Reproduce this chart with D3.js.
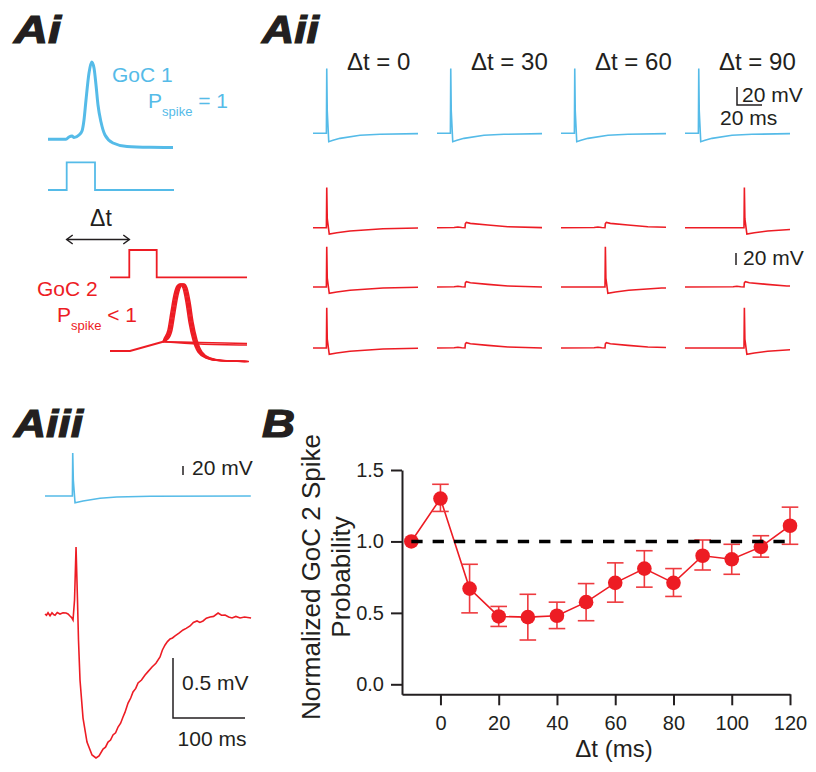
<!DOCTYPE html>
<html>
<head>
<meta charset="utf-8">
<script src="https://cdn.jsdelivr.net/npm/d3@7"></script>
<style>
  body { margin: 0; background: #fff; }
  text { font-family: "Liberation Sans", Arial, Helvetica, sans-serif; }
</style>
</head>
<body>
<svg id="fig" width="816" height="772"></svg>
<script>
// ---- B: normalized GoC 2 spike probability vs dt ----
var dtValues  = [-10, 0, 10, 20, 30, 40, 50, 60, 70, 80, 90, 100, 110, 120];
var probMean  = [1.0, 1.30, 0.67, 0.475, 0.47, 0.48, 0.575, 0.71, 0.81, 0.71, 0.90, 0.875, 0.962, 1.11];
var probHi    = [1.0, 1.40, 0.84, 0.545, 0.63, 0.575, 0.705, 0.85, 0.935, 0.81, 1.01, 0.98, 1.04, 1.24];
var probLo    = [1.0, 1.21, 0.50, 0.405, 0.31, 0.39, 0.445, 0.575, 0.68, 0.615, 0.80, 0.77, 0.89, 0.98];
var xTicksB   = [0, 20, 40, 60, 80, 100, 120];
var yTicksB   = [0.0, 0.5, 1.0, 1.5];

// ---- Ai: schematic (ms, mV) ----
var goc1Spike = [[0,-60],[18,-60],[21,-57.7],[24,-56.7],[26,-58.2],[31,-55.7],[34,-51.7],[36,-40.7],[38,-20.7],
                 [41,6.3],[43.7,17.3],[46,11.3],[48,-5.7],[50,-25.7],[53,-42.7],[57,-55.7],[65,-63.7],[79,-67.2],[102,-68],[125,-68.2]];
var goc1Step  = [[0,0],[18.7,0],[18.7,1],[47,1],[47,0],[126,0]];
var goc2Step  = [[62,0],[81.3,0],[81.3,1],[108.7,1],[108.7,0],[199,0]];
var goc2Ramp  = [[62,-60],[82,-60],[115,-50.7]];
var goc2Spike = [[115,-50.7],[118,-48],[122,-39],[125,-21],[128,-4],[131,5],[134,7],[137,3],[140,-11],[143,-31],
                 [147,-49],[152,-61],[160,-67],[172,-69.5],[199,-70.5]];
var goc2Fail  = [[115,-50.7],[152,-51.5],[199,-52.5]];
var spikeJitter = [-2, -1, 0, 1, 2];
var failDrop    = [0, -1.5];

// ---- Aii: example sweeps (ms, mV from rest) ----
var aiiTitles    = ["\u0394t = 0", "\u0394t = 30", "\u0394t = 60", "\u0394t = 90"];
var goc2StimTime = [11, 22.7, 35.5, 47.5];
var goc1SpikeTime = 11;
var goc2Outcome  = [["spike","epsp","epsp","spike"],
                    ["spike","epsp","spike","epsp"],
                    ["spike","epsp","epsp","spike"]];
var blueApShape = [[-0.3,0],[0,72],[0.4,25],[1.6,-9.3],[5,-7.8],[10.6,-5.6],[26.6,-2.2],[42.6,-1.1],[73,-0.4]];
var redApShape  = [[-0.3,0],[0,67],[0.4,15],[2,-10.5],[8,-8.3],[18.6,-5.5],[45,-1.7],[73,-0.5]];
var redPspShape = [[-9,0.3],[-6,1.2],[-3,0.4],[-0.3,0],[0,7],[0.8,8.9],[4,7.2],[18,4.4],[34,1.7],[62,0]];
var sweepLen = 84;

// ---- Aiii: averaged traces ----
var aiiiBlue = [[0,-60],[38,-60],[38.5,35.6],[39.3,-24.4],[41.7,-74.9],[52.8,-71.1],[76.4,-65.1],[99.6,-62.2],[145.8,-60.7],[285.7,-60]];
var aiiiRed  = [[0,0],[2,-0.01],[4.2,0.01],[7,-0.015],[9.7,0.01],[12,-0.005],[13.9,-0.01],[17,0.012],[20.8,0],[25,0.01],
                [29.2,0.008],[32,0],[34.7,-0.017],[37,-0.03],[38.9,-0.05],[41,0.117],[43.1,0.558],[45.1,0.117],[46.5,-0.217],
                [48.6,-0.55],[52.8,-0.867],[58.3,-1.067],[65.3,-1.175],[70.8,-1.2],[75,-1.183],[80.6,-1.125],[84,-1.11],
                [87.5,-1.067],[91,-1.05],[94.4,-1.008],[98,-0.99],[101.4,-0.942],[105,-0.91],[108.3,-0.858],[111,-0.82],
                [115.3,-0.742],[119,-0.70],[122.2,-0.65],[126,-0.62],[129.2,-0.575],[134,-0.55],[138.9,-0.508],[143,-0.48],
                [148.6,-0.442],[154,-0.41],[159.7,-0.358],[163,-0.30],[166.7,-0.258],[170,-0.23],[173.6,-0.208],[177,-0.2],
                [180.6,-0.183],[186,-0.16],[191.7,-0.133],[196,-0.12],[201.4,-0.1],[206,-0.07],[211.1,-0.058],[215,-0.07],
                [219.4,-0.058],[224,-0.035],[229.2,-0.025],[234,-0.02],[240.3,0.008],[245,-0.01],[250,-0.008],[255,-0.025],
                [259.7,-0.033],[265,-0.02],[270.8,-0.033],[277,-0.025],[286.1,-0.033]];

var ink = '#231f20', blue = '#55bbe8', red = '#ed1c24';
var svg = d3.select('#fig');

function panelLabel(txt, x, y, w) {
  svg.append('text').attr('x', x).attr('y', y)
    .attr('textLength', w).attr('lengthAdjust', 'spacingAndGlyphs')
    .style('font-size', '38px').style('font-weight', 'bold').style('font-style', 'italic')
    .attr('fill', ink).attr('stroke', ink).attr('stroke-width', 1.2)
    .text(txt);
}
function plainText(g, txt, x, y, size, color, anchor) {
  return g.append('text').attr('x', x).attr('y', y)
    .style('font-size', size + 'px').attr('fill', color)
    .attr('text-anchor', anchor || 'start').text(txt);
}
function pspike(g, x, y, rest, color) {
  var t = g.append('text').attr('x', x).attr('y', y).attr('fill', color).style('font-size', '21px');
  t.append('tspan').text('P');
  t.append('tspan').attr('dy', 8).style('font-size', '13px').text('spike');
  t.append('tspan').attr('dy', -8).text(rest);
}

panelLabel('Ai', 14, 43, 47);
panelLabel('Aii', 262, 43, 57);
panelLabel('Aiii', 14, 437, 69);
panelLabel('B', 262, 437, 33);

// ================= Ai =================
var xAi = d3.scaleLinear().domain([0, 125]).range([48, 173]);
var yAiBlue = d3.scaleLinear().domain([-60, 17.3]).range([139.3, 62]);
var yAiRed  = d3.scaleLinear().domain([-60, 7]).range([351, 284]);
var yStepBlue = d3.scaleLinear().domain([0, 1]).range([190, 162.3]);
var yStepRed  = d3.scaleLinear().domain([0, 1]).range([277.3, 250]);

var gAi = svg.append('g');
gAi.append('path').datum(goc1Spike)
  .attr('d', d3.line().x(d => xAi(d[0])).y(d => yAiBlue(d[1])).curve(d3.curveMonotoneX))
  .attr('fill', 'none').attr('stroke', blue).attr('stroke-width', 3);
gAi.append('path').datum(goc1Step)
  .attr('d', d3.line().x(d => xAi(d[0])).y(d => yStepBlue(d[1])))
  .attr('fill', 'none').attr('stroke', blue).attr('stroke-width', 1.8);
gAi.append('path').datum(goc2Step)
  .attr('d', d3.line().x(d => xAi(d[0])).y(d => yStepRed(d[1])))
  .attr('fill', 'none').attr('stroke', red).attr('stroke-width', 1.8);

var redAiLine = d3.line().x(d => xAi(d[0])).y(d => yAiRed(d[1])).curve(d3.curveMonotoneX);
gAi.append('path').datum(goc2Ramp).attr('d', d3.line().x(d => xAi(d[0])).y(d => yAiRed(d[1])))
  .attr('fill', 'none').attr('stroke', red).attr('stroke-width', 2);
failDrop.forEach(function(dv) {
  gAi.append('path').datum(goc2Fail.map(p => [p[0], p[0] > 115 ? p[1] + dv : p[1]]))
    .attr('d', redAiLine).attr('fill', 'none').attr('stroke', red).attr('stroke-width', 1.6);
});
spikeJitter.forEach(function(dt) {
  gAi.append('path').datum(goc2Spike.map((p, i) => [i === 0 ? p[0] : p[0] + dt, p[1]]))
    .attr('d', redAiLine).attr('fill', 'none').attr('stroke', red).attr('stroke-width', 1.5);
});

plainText(gAi, 'GoC 1', 112, 82, 21, blue);
pspike(gAi, 148, 108, ' = 1', blue);
plainText(gAi, '\u0394t', 101, 226, 23, ink, 'middle');
plainText(gAi, 'GoC 2', 37, 296, 21, red);
pspike(gAi, 57, 322, ' < 1', red);

// dt arrow
gAi.append('line').attr('x1', xAi(goc1Step[1][0])).attr('x2', xAi(goc2Step[1][0]))
  .attr('y1', 239.5).attr('y2', 239.5).attr('stroke', ink).attr('stroke-width', 1.5);
gAi.append('path')
  .attr('d', 'M' + (xAi(goc1Step[1][0]) + 6) + ',235 L' + xAi(goc1Step[1][0]) + ',239.5 L' + (xAi(goc1Step[1][0]) + 6) + ',244' +
             'M' + (xAi(goc2Step[1][0]) - 6) + ',235 L' + xAi(goc2Step[1][0]) + ',239.5 L' + (xAi(goc2Step[1][0]) - 6) + ',244')
  .attr('fill', 'none').attr('stroke', ink).attr('stroke-width', 1.5);

// ================= Aii =================
var colX = d3.scaleLinear().domain([0, 3]).range([313, 685]);
var xAii = d3.scaleLinear().domain([0, sweepLen]).range([0, 105]);
var yAiiBlue = d3.scaleLinear().domain([0, 20]).range([0, -18]);
var yAiiRed  = d3.scaleLinear().domain([0, 20]).range([0, -12]);
var blueRowY = 133.3;
var redRowY  = [227.7, 287, 348];

svg.append('defs').append('clipPath').attr('id', 'sweepClip')
  .append('rect').attr('x', -1).attr('y', -100).attr('width', xAii(sweepLen) + 1).attr('height', 200);

function sweep(shape, t0) {
  var pts = [[0, 0]];
  shape.forEach(function(p) { if (t0 + p[0] > 0) pts.push([t0 + p[0], p[1]]); });
  pts.push([sweepLen + 40, pts[pts.length - 1][1]]);
  return pts;
}
var gAii = svg.append('g');
aiiTitles.forEach(function(title, c) {
  plainText(gAii, title, colX(c) + 34, 70, 24, ink);
  var gb = gAii.append('g').attr('transform', 'translate(' + colX(c) + ',' + blueRowY + ')').attr('clip-path', 'url(#sweepClip)');
  gb.append('path').datum(sweep(blueApShape, goc1SpikeTime))
    .attr('d', d3.line().x(d => xAii(d[0])).y(d => yAiiBlue(d[1])))
    .attr('fill', 'none').attr('stroke', blue).attr('stroke-width', 1.6);
  goc2Outcome.forEach(function(row, r) {
    var gr = gAii.append('g').attr('transform', 'translate(' + colX(c) + ',' + redRowY[r] + ')').attr('clip-path', 'url(#sweepClip)');
    var shape = row[c] === 'spike' ? redApShape : redPspShape;
    gr.append('path').datum(sweep(shape, goc2StimTime[c]))
      .attr('d', d3.line().x(d => xAii(d[0])).y(d => yAiiRed(d[1])))
      .attr('fill', 'none').attr('stroke', red).attr('stroke-width', 1.6);
  });
});
// scale bars
var sbx = 737, sby = 105;
gAii.append('path')
  .attr('d', 'M' + sbx + ',' + (sby + yAiiBlue(20)) + ' V' + sby + ' H' + (sbx + xAii(20)))
  .attr('fill', 'none').attr('stroke', ink).attr('stroke-width', 1.5);
plainText(gAii, '20 mV', sbx + 5, 102, 21, ink);
plainText(gAii, '20 ms', 720, 125, 21, ink);
gAii.append('line').attr('x1', 736).attr('x2', 736).attr('y1', 265).attr('y2', 265 + yAiiRed(20))
  .attr('stroke', ink).attr('stroke-width', 1.5);
plainText(gAii, '20 mV', 743, 265, 21, ink);

// ================= Aiii =================
var xAiii = d3.scaleLinear().domain([0, 286]).range([45, 251]);
var yAiiiBlue = d3.scaleLinear().domain([-60, 35.6]).range([496, 453]);
var yAiiiRed  = d3.scaleLinear().domain([-1.2, 0.6]).range([758, 542]);
var gAiii = svg.append('g');
gAiii.append('path').datum(aiiiBlue)
  .attr('d', d3.line().x(d => xAiii(d[0])).y(d => yAiiiBlue(d[1])))
  .attr('fill', 'none').attr('stroke', blue).attr('stroke-width', 1.6);
gAiii.append('path').datum(aiiiRed)
  .attr('d', d3.line().x(d => xAiii(d[0])).y(d => yAiiiRed(d[1])))
  .attr('fill', 'none').attr('stroke', red).attr('stroke-width', 1.6);
gAiii.append('line').attr('x1', 183).attr('x2', 183).attr('y1', 475).attr('y2', 475 - (yAiiiBlue(-60) - yAiiiBlue(-40)))
  .attr('stroke', ink).attr('stroke-width', 1.5);
plainText(gAiii, '20 mV', 192, 475, 21, ink);
var sb3x = 173, sb3y = 718;
gAiii.append('path')
  .attr('d', 'M' + sb3x + ',' + (sb3y - (yAiiiRed(0) - yAiiiRed(0.5))) + ' V' + sb3y + ' H' + (sb3x + xAiii(100) - xAiii(0)))
  .attr('fill', 'none').attr('stroke', ink).attr('stroke-width', 1.5);
plainText(gAiii, '0.5 mV', 182, 690, 21, ink);
plainText(gAiii, '100 ms', 212, 746, 21, ink, 'middle');

// ================= B =================
var xB = d3.scaleLinear().domain([-13.2, 120]).range([402, 790]);
var yB = d3.scaleLinear().domain([-0.07, 1.5]).range([694.3, 470]);
var gB = svg.append('g');

var xAxis = gB.append('g').attr('transform', 'translate(0,' + yB.range()[0] + ')')
  .call(d3.axisBottom(xB).tickValues(xTicksB).tickSize(11).tickSizeOuter(0).tickPadding(11));
var yAxis = gB.append('g').attr('transform', 'translate(' + xB.range()[0] + ',0)')
  .call(d3.axisLeft(yB).tickValues(yTicksB).tickFormat(d3.format('.1f')).tickSize(11).tickSizeOuter(0).tickPadding(7));
[xAxis, yAxis].forEach(function(ax) {
  ax.attr('font-family', null).attr('font-size', null);
  ax.selectAll('text').style('font-size', '20px').attr('fill', ink);
  ax.selectAll('path,line').attr('stroke', ink).attr('stroke-width', 2);
});

plainText(gB, '\u0394t (ms)', 614, 757, 24, ink, 'middle');
gB.append('text').attr('transform', 'translate(320,577) rotate(-90)').attr('text-anchor', 'middle')
  .style('font-size', '26px').attr('fill', ink).text('Normalized GoC 2 Spike');
gB.append('text').attr('transform', 'translate(350,577) rotate(-90)').attr('text-anchor', 'middle')
  .style('font-size', '26px').attr('fill', ink).text('Probability');

var pts = dtValues.map((d, i) => ({ dt: d, m: probMean[i], hi: probHi[i], lo: probLo[i] }));
gB.append('path').datum(pts)
  .attr('d', d3.line().x(d => xB(d.dt)).y(d => yB(d.m)))
  .attr('fill', 'none').attr('stroke', red).attr('stroke-width', 1.6);

var eb = gB.selectAll('.eb').data(pts.filter(d => d.hi !== d.lo)).enter().append('g').attr('class', 'eb')
  .attr('stroke', '#ee3a3f').attr('stroke-width', 1.6);
eb.append('line').attr('x1', d => xB(d.dt)).attr('x2', d => xB(d.dt)).attr('y1', d => yB(d.lo)).attr('y2', d => yB(d.hi));
eb.append('line').attr('x1', d => xB(d.dt) - 8.3).attr('x2', d => xB(d.dt) + 8.3).attr('y1', d => yB(d.hi)).attr('y2', d => yB(d.hi));
eb.append('line').attr('x1', d => xB(d.dt) - 8.3).attr('x2', d => xB(d.dt) + 8.3).attr('y1', d => yB(d.lo)).attr('y2', d => yB(d.lo));

gB.selectAll('circle').data(pts).enter().append('circle')
  .attr('cx', d => xB(d.dt)).attr('cy', d => yB(d.m)).attr('r', 7.3).attr('fill', red);

gB.append('line').attr('x1', xB(dtValues[0])).attr('x2', xB(dtValues[dtValues.length - 1]))
  .attr('y1', yB(1)).attr('y2', yB(1))
  .attr('stroke', '#000').attr('stroke-width', 3.5).attr('stroke-dasharray', '11.3,10');
</script>
</body>
</html>
